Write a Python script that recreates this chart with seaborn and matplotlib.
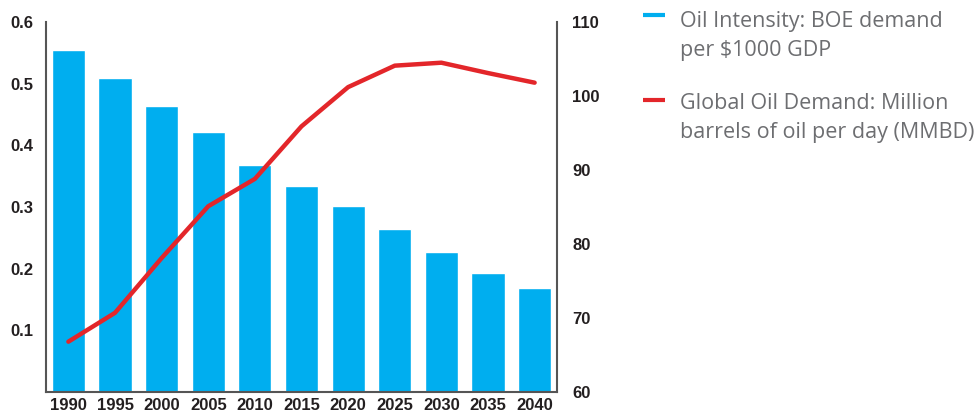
import numpy as np
import pandas as pd
import matplotlib
matplotlib.use("Agg")
import matplotlib.pyplot as plt
from matplotlib.lines import Line2D
import seaborn as sns

years = ["1990", "1995", "2000", "2005", "2010", "2015", "2020", "2025", "2030", "2035", "2040"]
oil_intensity = [0.555, 0.509, 0.464, 0.422, 0.368, 0.334, 0.302, 0.264, 0.227, 0.193, 0.169]
oil_demand = [66.8, 70.7, 78.1, 85.1, 88.8, 95.9, 101.2, 104.1, 104.5, 103.1, 101.8]
left_ticks = [0.1, 0.2, 0.3, 0.4, 0.5, 0.6]
right_ticks = [60, 70, 80, 90, 100, 110]
legend_labels = ["Oil Intensity: BOE demand\nper $1000 GDP",
                 "Global Oil Demand: Million\nbarrels of oil per day (MMBD)"]

BLUE = "#00AEEF"
RED = "#E3262A"
SPINE = "#555555"
TICK = "#231f20"
LEG = "#6d6e71"

sns.set_theme(style="white")
plt.rcParams["font.family"] = ["Liberation Sans", "DejaVu Sans"]

df = pd.DataFrame({"year": years, "intensity": oil_intensity, "demand": oil_demand})

fig = plt.figure(figsize=(9.8, 4.11), dpi=100)
ax = fig.add_axes([46 / 980, 19 / 411, (557 - 46) / 980, (392 - 22) / 411])

sns.barplot(data=df, x="year", y="intensity", ax=ax, color=BLUE, saturation=1, width=0.71)
ax.set_xlim(-0.48, len(years) - 1 + 0.48)
ax.set_ylim(0, 0.6)
ax.set_yticks(left_ticks)
ax.set_yticklabels([f"{t:.1f}" for t in left_ticks])
ax.set_xlabel("")
ax.set_ylabel("")

ax2 = ax.twinx()
sns.lineplot(x=np.arange(len(years)), y=df["demand"], ax=ax2, color=RED, linewidth=3.2)
ax2.set_ylim(60, 110)
ax2.set_yticks(right_ticks)
ax2.set_ylabel("")
ax2.set_xlim(-0.48, len(years) - 1 + 0.48)

for a in (ax, ax2):
    a.spines["top"].set_visible(False)
    for s in ("left", "right", "bottom"):
        a.spines[s].set_color(SPINE)
        a.spines[s].set_linewidth(1.5)
ax.spines["right"].set_visible(False)
ax2.spines["left"].set_visible(False)
ax2.spines["bottom"].set_visible(False)

ax.tick_params(axis="y", length=0, pad=9, labelsize=12, labelcolor=TICK)
ax.tick_params(axis="x", length=0, pad=4, labelsize=12, labelcolor=TICK)
ax2.tick_params(axis="y", length=0, pad=11, labelsize=12, labelcolor=TICK)
for lab in ax.get_xticklabels() + ax.get_yticklabels() + ax2.get_yticklabels():
    lab.set_fontweight("bold")

# legend
handles_y = [15, 100]
text_top = [11, 93]
colors = [BLUE, RED]
for hy, ty, c, lab in zip(handles_y, text_top, colors, legend_labels):
    fig.add_artist(Line2D([643 / 980, 665 / 980], [1 - hy / 411] * 2, color=c, linewidth=3,
                          solid_capstyle="butt"))
    fig.text(680 / 980, 1 - ty / 411, lab, ha="left", va="top", fontsize=15.5,
             color=LEG, family=["Open Sans", "DejaVu Sans"], linespacing=1.5)

fig.savefig("out.png", dpi=100)
